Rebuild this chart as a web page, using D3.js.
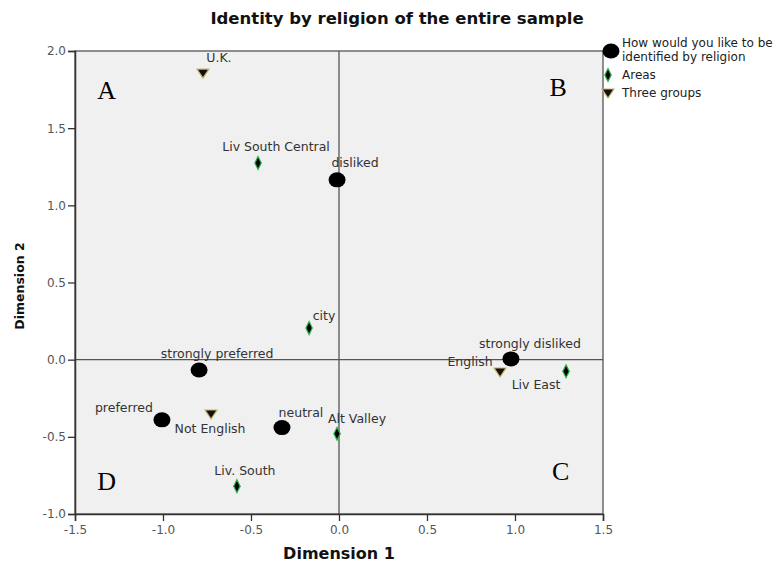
<!DOCTYPE html>
<meta charset="utf-8">
<style>
body { margin: 0; background: #fff; }
text { font-family: "DejaVu Sans", Verdana, sans-serif; }
.pt-label { font-size: 12.5px; fill: #333; }
</style>
<body>
<svg width="782" height="566"></svg>
<script src="https://d3js.org/d3.v7.min.js"></script>
<script>

// category point coordinates
var religionNames = ["disliked", "strongly disliked", "strongly preferred", "preferred", "neutral"];
var religionDim1  = [-0.011, 0.977, -0.795, -1.006, -0.324];
var religionDim2  = [1.165, 0.005, -0.067, -0.390, -0.440];

var areaNames = ["Liv South Central", "city", "Alt Valley", "Liv. South", "Liv East"];
var areaDim1  = [-0.460, -0.170, -0.011, -0.580, 1.290];
var areaDim2  = [1.275, 0.205, -0.480, -0.820, -0.075];

var groupNames = ["U.K.", "English", "Not English"];
var groupDim1  = [-0.773, 0.915, -0.727];
var groupDim2  = [1.857, -0.080, -0.352];

var xTicks = [-1.5, -1.0, -0.5, 0.0, 0.5, 1.0, 1.5];
var yTicks = [-1.0, -0.5, 0.0, 0.5, 1.0, 1.5, 2.0];

var legendNames = ["How would you like to be|identified by religion", "Areas", "Three groups"];

// label offsets (px) from each marker
var labelOffset = {
  "disliked": [18, -13], "strongly disliked": [19, -11], "strongly preferred": [18, -12],
  "preferred": [-38, -8], "neutral": [19, -11], "Liv South Central": [18, -12],
  "city": [15, -8], "Alt Valley": [20, -11], "Liv. South": [8, -11], "Liv East": [-30, 18],
  "U.K.": [16, -11], "English": [-30, -6], "Not English": [-1, 19]
};

var svg = d3.select("svg"),
    margin = {top: 51, right: 179, bottom: 52, left: 75},
    width = 782 - margin.left - margin.right,
    height = 566 - margin.top - margin.bottom,
    g = svg.append("g").attr("transform", "translate(" + margin.left + "," + margin.top + ")");

var x = d3.scaleLinear().domain([-1.5, 1.5]).range([0, width]);
var y = d3.scaleLinear().domain([-1.0, 2.0]).range([height, 0]);

// title
svg.append("text")
    .attr("x", 397)
    .attr("y", 24)
    .attr("text-anchor", "middle")
    .attr("font-size", 16.5)
    .attr("font-weight", "bold")
    .attr("fill", "#111")
    .text("Identity by religion of the entire sample");

// plot background
g.append("rect")
    .attr("width", width)
    .attr("height", height)
    .attr("fill", "#f0f0f0");

// zero reference lines
g.append("line")
    .attr("x1", 0).attr("x2", width)
    .attr("y1", y(0)).attr("y2", y(0))
    .attr("stroke", "#555").attr("stroke-width", 1.3);
g.append("line")
    .attr("x1", x(0)).attr("x2", x(0))
    .attr("y1", 0).attr("y2", height)
    .attr("stroke", "#555").attr("stroke-width", 1.3);

g.append("rect")
    .attr("width", width)
    .attr("height", height)
    .attr("fill", "none")
    .attr("stroke", "#555")
    .attr("stroke-width", 1.3);

// axes
var fmt = function(d) { return d3.format(".1f")(d).replace("\u2212", "-"); };
var xAxis = g.append("g")
    .attr("transform", "translate(0," + height + ")")
    .call(d3.axisBottom(x).tickValues(xTicks).tickFormat(fmt).tickSize(7).tickPadding(4));
var yAxis = g.append("g")
    .call(d3.axisLeft(y).tickValues(yTicks).tickFormat(fmt).tickSize(7).tickPadding(2));
[xAxis, yAxis].forEach(function(a) {
  a.select(".domain").attr("stroke", "#333").attr("stroke-width", 1.5);
  a.selectAll(".tick line").attr("stroke", "#333").attr("stroke-width", 1.3);
  a.selectAll(".tick text")
    .style("font-family", "DejaVu Sans, Verdana, sans-serif")
    .style("font-size", "12px")
    .attr("fill", "#555");
});

svg.append("text")
    .attr("x", margin.left + x(0))
    .attr("y", 559)
    .attr("text-anchor", "middle")
    .attr("font-size", 16)
    .attr("font-weight", "bold")
    .attr("fill", "#111")
    .text("Dimension 1");

svg.append("text")
    .attr("transform", "translate(24,286) rotate(-90)")
    .attr("text-anchor", "middle")
    .attr("font-size", 12.5)
    .attr("font-weight", "bold")
    .attr("fill", "#111")
    .text("Dimension 2");

// quadrant letters
var quads = [["A", -1.32, 1.745], ["B", 1.245, 1.77], ["C", 1.26, -0.72], ["D", -1.32, -0.785]];
g.selectAll(".quad")
    .data(quads)
    .enter().append("text")
    .attr("class", "quad")
    .attr("x", function(d) { return x(d[1]); })
    .attr("y", function(d) { return y(d[2]); })
    .attr("text-anchor", "middle")
    .attr("dy", "0.35em")
    .style("font-family", "Liberation Serif, Times New Roman, serif")
    .style("font-size", "26px")
    .attr("fill", "#000")
    .text(function(d) { return d[0]; });

function rows(names, d1, d2) {
  return names.map(function(n, i) { return {name: n, d1: d1[i], d2: d2[i]}; });
}

var diamondPath = "M0,-6.5L3.2,0L0,6.5L-3.2,0Z";
var trianglePath = "M-6,-4L6,-4L0,5Z";

function drawLabels(data) {
  g.selectAll(null)
    .data(data)
    .enter().append("text")
    .attr("class", "pt-label")
    .attr("x", function(d) { return x(d.d1) + labelOffset[d.name][0]; })
    .attr("y", function(d) { return y(d.d2) + labelOffset[d.name][1]; })
    .attr("text-anchor", "middle")
    .text(function(d) { return d.name; });
}

var religion = rows(religionNames, religionDim1, religionDim2);
var areas = rows(areaNames, areaDim1, areaDim2);
var groups = rows(groupNames, groupDim1, groupDim2);

g.selectAll(".rel")
    .data(religion)
    .enter().append("ellipse")
    .attr("class", "rel")
    .attr("cx", function(d) { return x(d.d1); })
    .attr("cy", function(d) { return y(d.d2); })
    .attr("rx", 8.5).attr("ry", 7.5)
    .attr("fill", "#000");

g.selectAll(".area")
    .data(areas)
    .enter().append("path")
    .attr("class", "area")
    .attr("transform", function(d) { return "translate(" + x(d.d1) + "," + y(d.d2) + ")"; })
    .attr("d", diamondPath)
    .attr("fill", "#000")
    .attr("stroke", "#2fb34a")
    .attr("stroke-width", 1.2);

g.selectAll(".grp")
    .data(groups)
    .enter().append("path")
    .attr("class", "grp")
    .attr("transform", function(d) { return "translate(" + x(d.d1) + "," + y(d.d2) + ")"; })
    .attr("d", trianglePath)
    .attr("fill", "#111")
    .attr("stroke", "#c9b36a")
    .attr("stroke-width", 1.2);

drawLabels(religion);
drawLabels(areas);
drawLabels(groups);

// legend
var legend = svg.append("g").attr("transform", "translate(611,0)");
var legendY = [51, 75, 93];

legend.append("ellipse").attr("cx", 0).attr("cy", legendY[0]).attr("rx", 8.5).attr("ry", 7.5).attr("fill", "#000");
legend.append("path").attr("transform", "translate(-3," + legendY[1] + ")").attr("d", diamondPath)
    .attr("fill", "#000").attr("stroke", "#2fb34a").attr("stroke-width", 1.2);
legend.append("path").attr("transform", "translate(-3," + legendY[2] + ")").attr("d", trianglePath)
    .attr("fill", "#111").attr("stroke", "#c9b36a").attr("stroke-width", 1.2);

legendNames.forEach(function(n, i) {
  n.split("|").forEach(function(line, j) {
    legend.append("text")
        .attr("x", 11)
        .attr("y", (i === 0 ? legendY[0] - 4 : legendY[i] + 4) + j * 14)
        .attr("font-size", 12)
        .attr("fill", "#222")
        .text(line);
  });
});

</script>
</body>
